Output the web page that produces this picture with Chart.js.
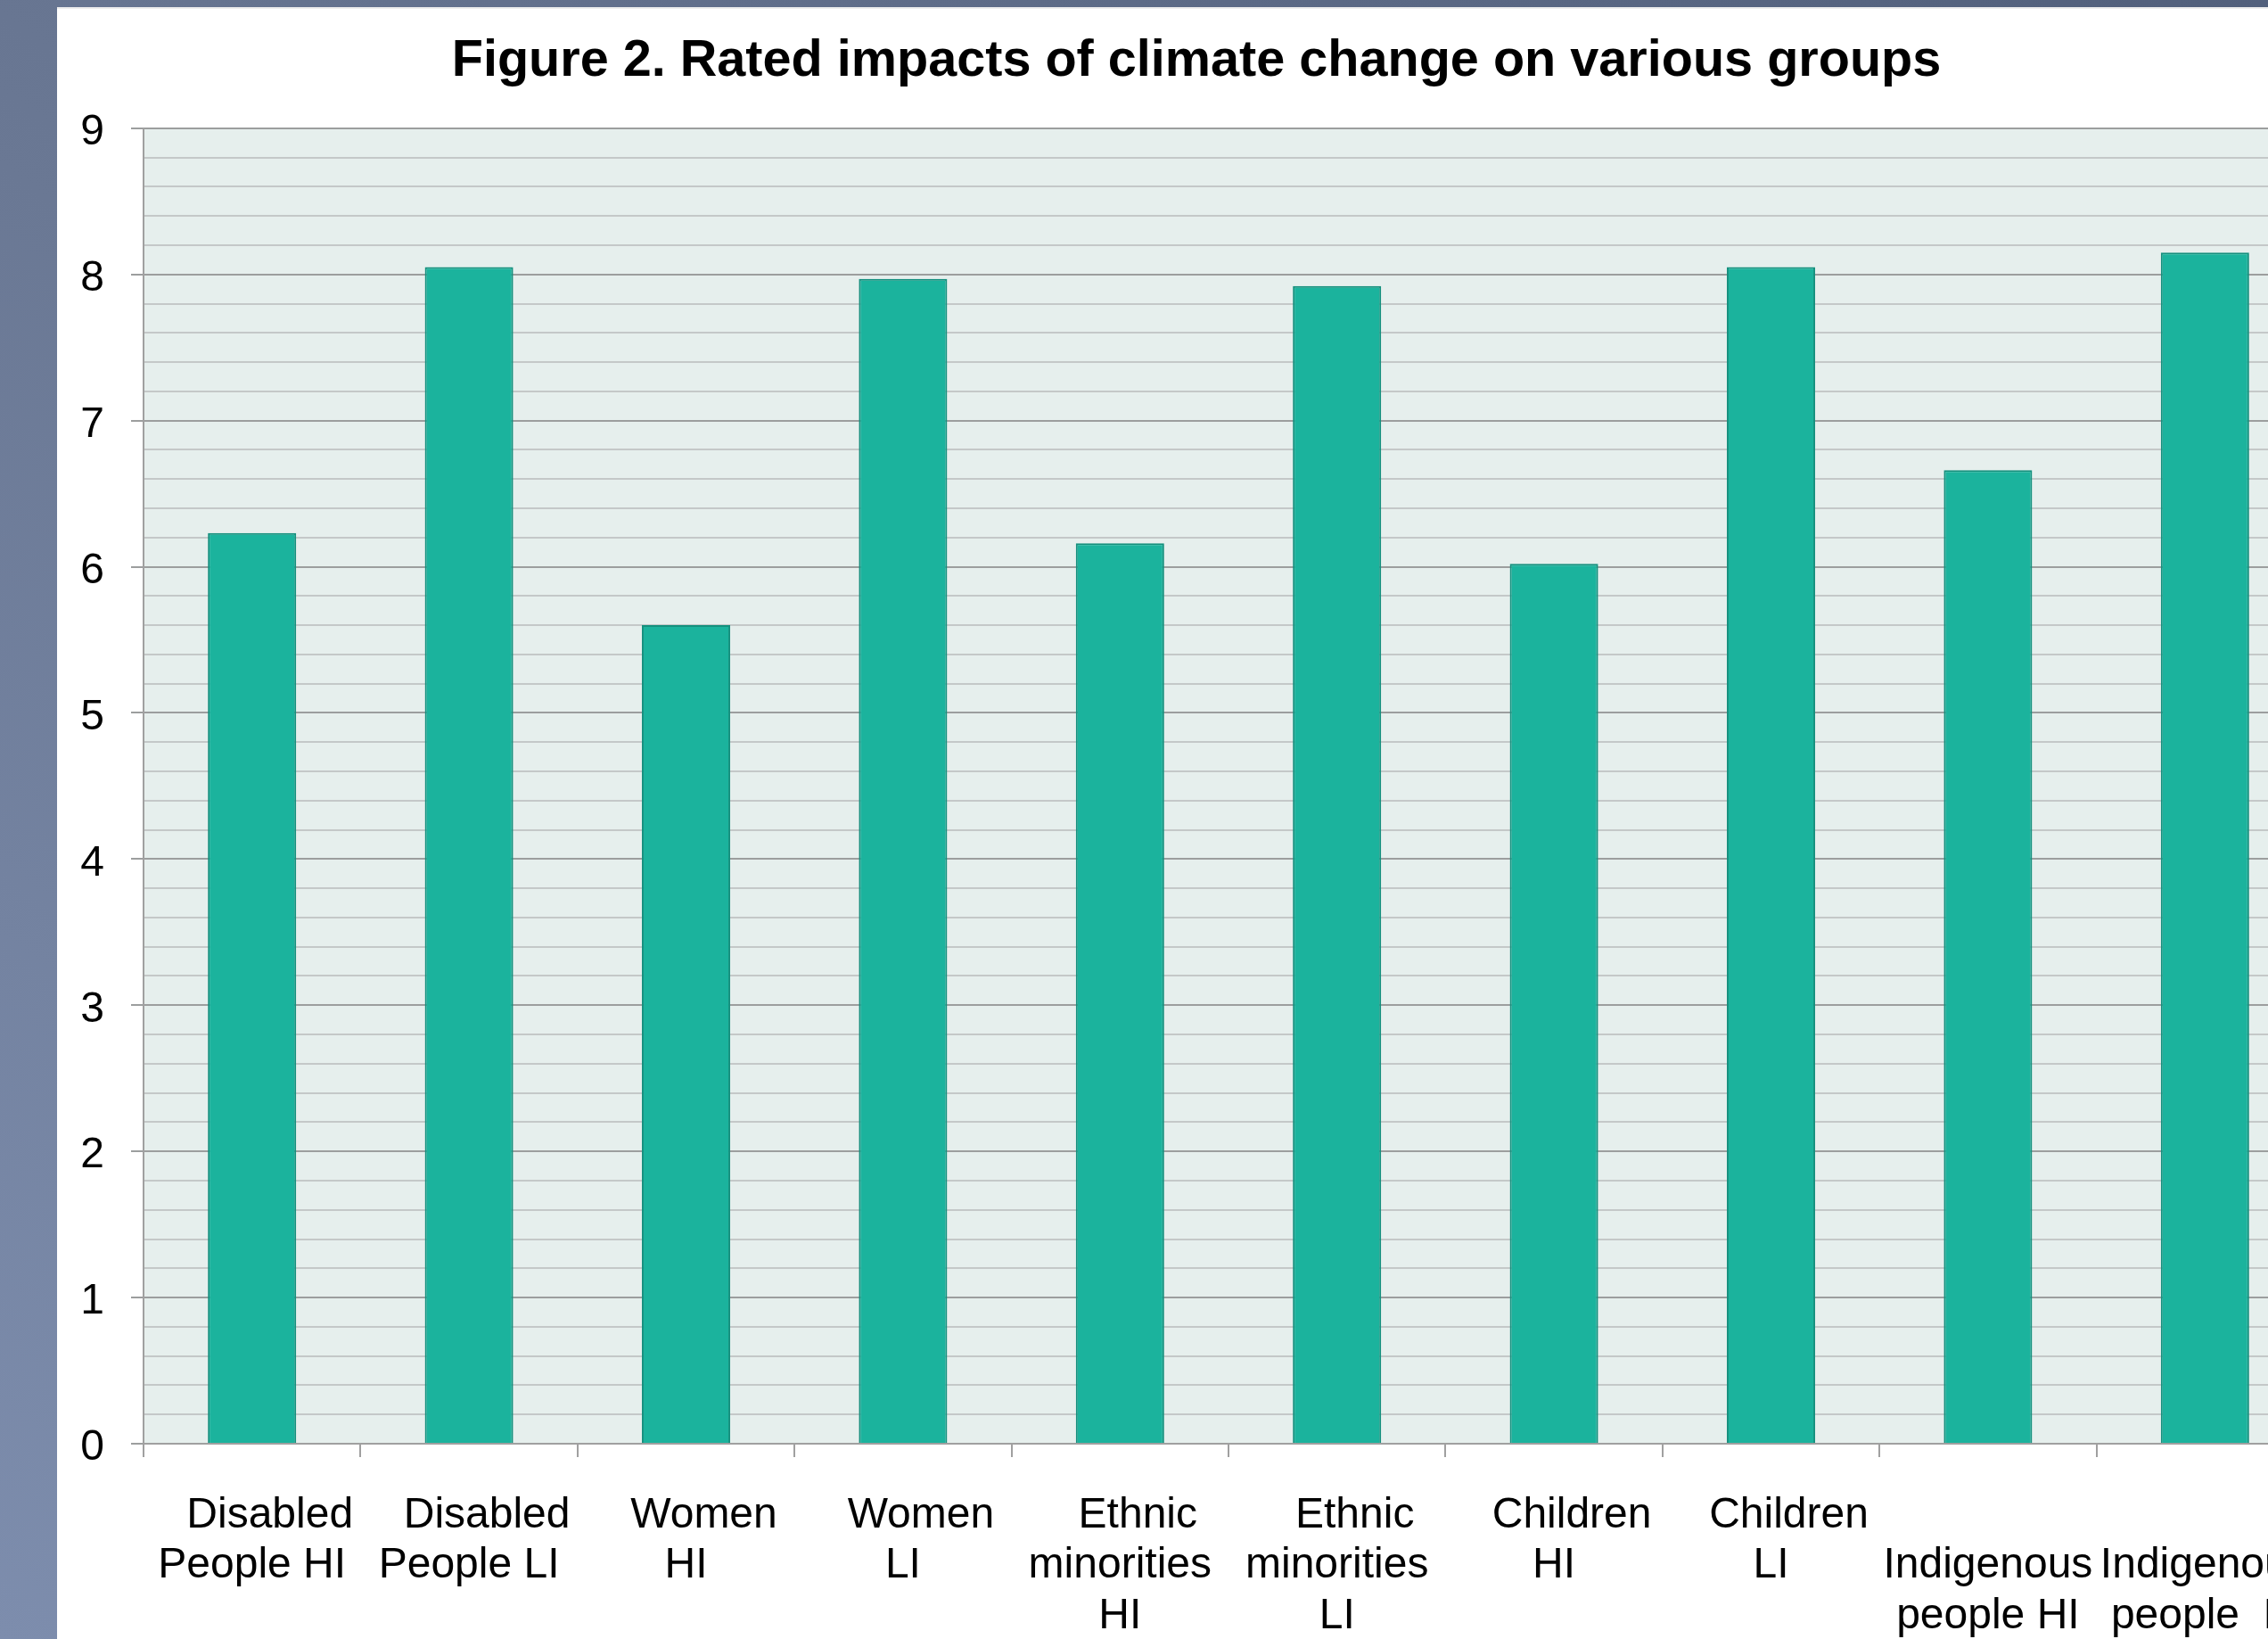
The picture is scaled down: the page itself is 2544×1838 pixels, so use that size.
<!DOCTYPE html>
<html>
<head>
<meta charset="utf-8">
<script src="https://cdn.jsdelivr.net/npm/chart.js@4/dist/chart.umd.min.js"></script>
<style>
  html, body { margin: 0; padding: 0; width: 2544px; height: 1838px; overflow: hidden; }
  body { background: linear-gradient(to top right, #7d8dad 0%, #6a7894 45%, #52607c 100%); position: relative; }
  #panel { position: absolute; left: 64px; top: 8px; right: 0; bottom: 0; background: #ffffff; border-top: 2px solid #eeeeee; box-sizing: border-box; }
  #c { position: absolute; left: 89px; top: 0; width: 2506px; height: 1838px; }
</style>
</head>
<body>
<div id="panel"></div>
<canvas id="c" width="2506" height="1838"></canvas>
<script>
const titleText = "Figure 2. Rated impacts of climate change on various groups";
const categories = [
  ["   Disabled", "People HI"],
  ["   Disabled", "People LI"],
  ["   Women", "HI"],
  ["   Women", "LI"],
  ["   Ethnic", "minorities", "HI"],
  ["   Ethnic", "minorities", "LI"],
  ["   Children", "HI"],
  ["   Children", "LI"],
  ["", "Indigenous", "people HI"],
  ["", "Indigenous", "people  LI"]
];
const ratings = [6.23, 8.05, 5.60, 7.97, 6.16, 7.92, 6.02, 8.05, 6.66, 8.15];
const yMin = 0;
const yMax = 9;
const yStep = 0.2;

const FONT = "'Liberation Sans', Arial, Helvetica, sans-serif";
Chart.defaults.font.family = FONT;
Chart.defaults.color = '#000000';

const isMajor = v => Math.abs(v - Math.round(v)) < 1e-6;

const plotBg = {
  id: 'plotBg',
  beforeDraw(chart) {
    const { ctx, chartArea: a } = chart;
    ctx.save();
    ctx.fillStyle = '#e6efed';
    ctx.fillRect(a.left, a.top, a.right - a.left, a.bottom - a.top);
    ctx.restore();
  }
};

new Chart(document.getElementById('c'), {
  type: 'bar',
  data: {
    labels: categories,
    datasets: [{
      data: ratings,
      backgroundColor: '#1bb39d',
      borderColor: '#15907e',
      borderWidth: 2,
      categoryPercentage: 1.0,
      barPercentage: 0.407
    }]
  },
  options: {
    responsive: false,
    animation: false,
    devicePixelRatio: 1,
    layout: { padding: 0 },
    plugins: {
      legend: { display: false },
      tooltip: { enabled: false },
      title: {
        display: true,
        text: titleText,
        color: '#000000',
        font: { family: FONT, size: 57.6, weight: 'bold', lineHeight: 1.2 },
        padding: { top: 35, bottom: 39.7 }
      }
    },
    scales: {
      x: {
        afterFit: s => { s.height = 219; s.paddingLeft = 0; s.paddingRight = 0; },
        border: { color: '#a0a0a0', width: 2 },
        grid: {
          offset: true,
          drawOnChartArea: false,
          drawTicks: true,
          tickLength: 15,
          color: '#a0a0a0',
          lineWidth: 2
        },
        ticks: {
          autoSkip: false,
          maxRotation: 0,
          minRotation: 0,
          padding: 37,
          color: '#000000',
          font: { family: FONT, size: 48, lineHeight: 1.18 }
        }
      },
      y: {
        min: yMin,
        max: yMax,
        afterFit: s => { s.width = 72; },
        border: { color: '#a0a0a0', width: 2 },
        grid: {
          color: ctx => isMajor(ctx.tick.value) ? '#9c9e9e' : '#c4c8c8',
          lineWidth: 2,
          drawTicks: true,
          tickLength: 14,
          tickColor: ctx => isMajor(ctx.tick.value) ? '#9c9e9e' : 'rgba(0,0,0,0)'
        },
        ticks: {
          stepSize: yStep,
          autoSkip: false,
          padding: 30,
          labelOffset: 5,
          color: '#000000',
          font: { family: FONT, size: 48 },
          callback: v => isMajor(v) ? String(Math.round(v)) : ''
        }
      }
    }
  },
  plugins: [plotBg]
});
</script>
</body>
</html>
